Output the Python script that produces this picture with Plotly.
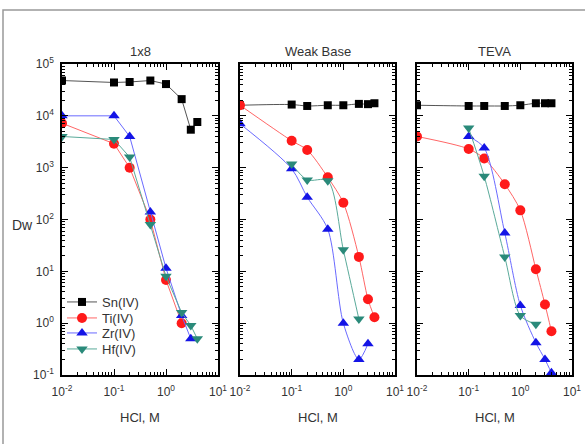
import plotly.graph_objects as go

# ---- data ----
panels = ["1x8", "Weak Base", "TEVA"]
series_names = ["Sn(IV)", "Ti(IV)", "Zr(IV)", "Hf(IV)"]

# panel 1: 1x8
p1_sn_x = [0.01, 0.1, 0.2, 0.5, 1.0, 2.0, 3.0, 4.0]
p1_sn_y = [48000, 44000, 45000, 48000, 41000, 21000, 5400, 7600]
p1_ti_x = [0.01, 0.1, 0.2, 0.5, 1.0, 2.0]
p1_ti_y = [7200, 2900, 1000, 100, 6.8, 1.0]
p1_zr_x = [0.01, 0.1, 0.2, 0.5, 1.0, 2.0, 3.0]
p1_zr_y = [10000, 10000, 4000, 140, 11.5, 1.4, 0.5]
p1_hf_x = [0.01, 0.1, 0.2, 0.5, 1.0, 2.0, 3.0, 4.0]
p1_hf_y = [4000, 3500, 1600, 80, 8, 1.6, 0.9, 0.5]

# panel 2: Weak Base
p2_sn_x = [0.01, 0.1, 0.2, 0.5, 1.0, 2.0, 3.0, 4.0]
p2_sn_y = [16000, 16500, 15500, 16000, 16000, 17000, 16800, 17500]
p2_ti_x = [0.01, 0.1, 0.2, 0.5, 1.0, 2.0, 3.0, 4.0]
p2_ti_y = [16000, 3300, 2200, 650, 210, 19, 2.9, 1.3]
p2_zr_x = [0.01, 0.1, 0.2, 0.5, 1.0, 2.0, 3.0]
p2_zr_y = [7000, 950, 270, 65, 1.0, 0.2, 0.4]
p2_hf_x = [0.1, 0.2, 0.5, 1.0, 2.0]
p2_hf_y = [1180, 580, 560, 26, 1.2]

# panel 3: TEVA
p3_sn_x = [0.01, 0.1, 0.2, 0.5, 1.0, 2.0, 3.0, 4.0]
p3_sn_y = [16000, 15500, 15500, 15500, 16000, 17500, 17500, 17500]
p3_ti_x = [0.01, 0.1, 0.2, 0.5, 1.0, 2.0, 3.0, 4.0]
p3_ti_y = [4000, 2300, 1500, 480, 150, 11, 2.3, 0.7]
p3_zr_x = [0.1, 0.2, 0.5, 1.0, 2.0, 3.0, 4.0]
p3_zr_y = [4000, 2400, 55, 2.2, 0.42, 0.2, 0.11]
p3_hf_x = [0.1, 0.2, 0.5, 1.0, 2.0]
p3_hf_y = [5800, 680, 19, 1.4, 0.95]

x_tickvals = [0.01, 0.1, 1, 10]
x_ticktext = ["10<sup>-2</sup>", "10<sup>-1</sup>", "10<sup>0</sup>", "10<sup>1</sup>"]
y_tickvals = [0.1, 1, 10, 100, 1000, 10000, 100000]
y_ticktext = ["10<sup>-1</sup>", "10<sup>0</sup>", "10<sup>1</sup>", "10<sup>2</sup>",
              "10<sup>3</sup>", "10<sup>4</sup>", "10<sup>5</sup>"]

# minor tick positions (2..9 within each decade)
x_minor = [m * 10.0 ** e for e in range(-2, 1) for m in range(2, 10)]
y_minor = [m * 10.0 ** e for e in range(-1, 5) for m in range(2, 10)]

# ---- styles ----
styles = {
    "Sn(IV)": dict(mc="#000000", lc="#555555", sym="square", size=8),
    "Ti(IV)": dict(mc="#ff1a1a", lc="#ff6666", sym="circle", size=10),
    "Zr(IV)": dict(mc="#1414e6", lc="#6a6aff", sym="triangle-up", size=10),
    "Hf(IV)": dict(mc="#2a8a7a", lc="#5aaa9a", sym="triangle-down", size=10),
}
legend_ids = ["legend", "legend2", "legend3", "legend4"]
legend_rows_px = [302, 318, 333, 349]

panel_data = [
    [(p1_sn_x, p1_sn_y), (p1_ti_x, p1_ti_y), (p1_zr_x, p1_zr_y), (p1_hf_x, p1_hf_y)],
    [(p2_sn_x, p2_sn_y), (p2_ti_x, p2_ti_y), (p2_zr_x, p2_zr_y), (p2_hf_x, p2_hf_y)],
    [(p3_sn_x, p3_sn_y), (p3_ti_x, p3_ti_y), (p3_zr_x, p3_zr_y), (p3_hf_x, p3_hf_y)],
]

W, H = 585, 444
x_px = [(62, 218), (240, 395), (417, 572)]
y_px = (64, 375)

fig = go.Figure()
for i, pdata in enumerate(panel_data):
    ax = "" if i == 0 else str(i + 1)
    for k, (name, (xs, ys)) in enumerate(zip(series_names, pdata)):
        st = styles[name]
        fig.add_trace(go.Scatter(
            x=xs, y=ys, mode="lines+markers", name=name,
            xaxis="x" + ax, yaxis="y" + ax,
            showlegend=(i == 0), legend=legend_ids[k],
            line=dict(color=st["lc"], width=1, shape="linear" if i == 0 else "spline", smoothing=0.8),
            marker=dict(color=st["mc"], symbol=st["sym"], size=st["size"]),
            cliponaxis=True,
        ))

axis_common = dict(
    type="log", showgrid=False, zeroline=False, showline=True, automargin=False,
    linecolor="#000000", linewidth=1.5, mirror="allticks",
    ticks="inside", ticklen=6, tickwidth=1.2, tickcolor="#000000",
    tickfont=dict(family="Liberation Sans, Arial", size=12, color="#333333"),
)

layout = dict(
    width=W, height=H, margin=dict(l=0, r=0, t=0, b=0, autoexpand=False),
    paper_bgcolor="white", plot_bgcolor="white",
    font=dict(family="Liberation Sans, Arial", color="#333333"),
    showlegend=True,
)
for k, lid in enumerate(legend_ids):
    layout[lid] = dict(x=62 / W, y=1 - legend_rows_px[k] / H, xanchor="left", yanchor="middle",
                       bgcolor="rgba(0,0,0,0)", font=dict(size=13, color="#333333"),
                       tracegroupgap=0, itemwidth=30)
for i in range(3):
    ax = "" if i == 0 else str(i + 1)
    x0, x1 = x_px[i]
    layout["xaxis" + ax] = dict(axis_common, domain=[x0 / W, x1 / W], range=[-2, 1],
                                tickvals=x_tickvals, ticktext=x_ticktext, ticklabelstandoff=5,
                                minor=dict(ticks="inside", ticklen=3, tickwidth=1,
                                           tickcolor="#000000", tickvals=x_minor),
                                anchor="y" + ax)
    layout["yaxis" + ax] = dict(axis_common, domain=[1 - y_px[1] / H, 1 - y_px[0] / H],
                                range=[-1, 5], tickvals=y_tickvals, ticktext=y_ticktext,
                                ticklabelstandoff=4,
                                minor=dict(ticks="inside", ticklen=3, tickwidth=1,
                                           tickcolor="#000000", tickvals=y_minor),
                                showticklabels=(i == 0), anchor="x" + ax)
fig.update_layout(**layout)

annotations = []
for i, title in enumerate(panels):
    cx = (x_px[i][0] + x_px[i][1]) / 2 / W
    annotations.append(dict(text=title, x=cx, y=1 - 51 / H, xref="paper", yref="paper",
                            xanchor="center", yanchor="middle",
                            showarrow=False, font=dict(size=13, color="#333333")))
    annotations.append(dict(text="HCl, M", x=cx, y=1 - 417 / H, xref="paper", yref="paper",
                            xanchor="center", yanchor="middle",
                            showarrow=False, font=dict(size=13, color="#333333")))
annotations.append(dict(text="Dw", x=22 / W, y=1 - 225 / H, xref="paper", yref="paper",
                        xanchor="center", yanchor="middle",
                        showarrow=False, font=dict(size=14, color="#333333")))
fig.update_layout(annotations=annotations)

fig.add_shape(type="rect", xref="paper", yref="paper",
              x0=3 / W, x1=1.02, y0=-0.02, y1=1 - 10 / H,
              line=dict(color="#999999", width=1.5), layer="below")

fig.write_html("out.html")
